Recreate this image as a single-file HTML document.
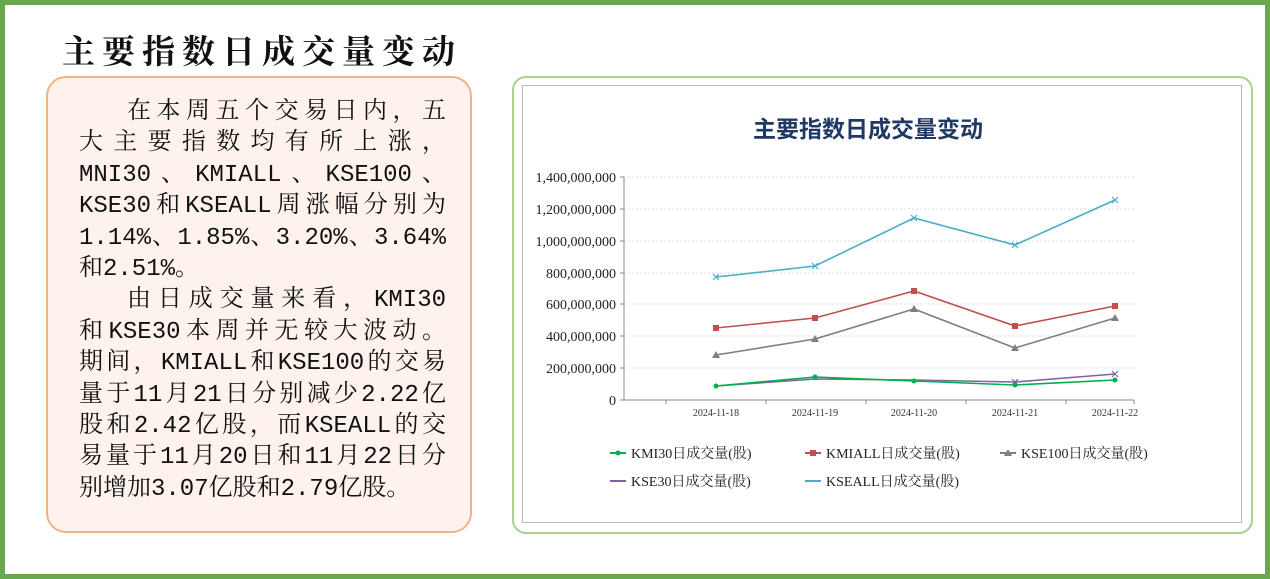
<!DOCTYPE html>
<html><head><meta charset="utf-8"><style>
body{margin:0;width:1270px;height:579px;background:#fff;position:relative;overflow:hidden;font-family:"Liberation Serif","Noto Serif CJK SC",serif}
.frame{position:absolute;left:0;top:0;width:1260px;height:569px;border:5px solid #6aa84f}
.title{position:absolute;left:62px;top:26px;font-size:33px;font-weight:bold;letter-spacing:7px;color:#111;white-space:nowrap}
.box{position:absolute;left:46px;top:76px;width:422px;height:453px;background:#fdf3ec;border:2px solid #f4b183;border-radius:20px}
.txt{position:absolute;left:79px;top:97px;width:367px;font-size:24px;color:#111;font-family:"Liberation Mono","Noto Serif CJK SC",serif}
.txt div{height:31.4px;line-height:31.4px;text-align:justify;text-align-last:justify;white-space:nowrap}
.txt div.l{text-align-last:left}
.cbox{position:absolute;left:512px;top:76px;width:737px;height:454px;border:2px solid #a9d18e;border-radius:14px}
.inner{position:absolute;left:522px;top:85px;width:718px;height:436px;border:1px solid #bbb}
</style></head><body>
<div class="frame"></div>
<div class="title">主要指数日成交量变动</div>
<div class="box"></div>
<div class="txt">
<div style="padding-left:48px">在本周五个交易日内，五</div>
<div>大主要指数均有所上涨，</div>
<div>MNI30、KMIALL、KSE100、</div>
<div>KSE30和KSEALL周涨幅分别为</div>
<div>1.14%、1.85%、3.20%、3.64%</div>
<div class="l">和2.51%。</div>
<div style="padding-left:48px">由日成交量来看，KMI30</div>
<div>和KSE30本周并无较大波动。</div>
<div>期间，KMIALL和KSE100的交易</div>
<div>量于11月21日分别减少2.22亿</div>
<div>股和2.42亿股，而KSEALL的交</div>
<div>易量于11月20日和11月22日分</div>
<div class="l">别增加3.07亿股和2.79亿股。</div>
</div>
<div class="cbox"></div>
<div class="inner"></div>
<svg style="position:absolute;left:0;top:0" width="1270" height="579" font-family="Liberation Serif, Noto Serif CJK SC, serif">
<text x="868" y="137" font-size="23" font-weight="bold" fill="#1f3864" text-anchor="middle" font-family="Liberation Sans, Noto Sans CJK SC, sans-serif">主要指数日成交量变动</text>
<g stroke="#ddd" stroke-dasharray="2,2">
<line x1="624" y1="177" x2="1134" y2="177"/><line x1="624" y1="209" x2="1134" y2="209"/><line x1="624" y1="241" x2="1134" y2="241"/><line x1="624" y1="273" x2="1134" y2="273"/><line x1="624" y1="304" x2="1134" y2="304"/><line x1="624" y1="336" x2="1134" y2="336"/><line x1="624" y1="368" x2="1134" y2="368"/>
</g>
<g stroke="#888"><line x1="624" y1="177" x2="624" y2="400"/><line x1="620" y1="400" x2="1134" y2="400"/>
<line x1="620" y1="177" x2="624" y2="177"/><line x1="620" y1="209" x2="624" y2="209"/><line x1="620" y1="241" x2="624" y2="241"/><line x1="620" y1="273" x2="624" y2="273"/><line x1="620" y1="304" x2="624" y2="304"/><line x1="620" y1="336" x2="624" y2="336"/><line x1="620" y1="368" x2="624" y2="368"/>
<line x1="666" y1="400" x2="666" y2="404"/><line x1="766" y1="400" x2="766" y2="404"/><line x1="866" y1="400" x2="866" y2="404"/><line x1="966" y1="400" x2="966" y2="404"/><line x1="1066" y1="400" x2="1066" y2="404"/><line x1="1134" y1="400" x2="1134" y2="404"/></g>
<g font-size="14" fill="#222" text-anchor="end">
<text x="616" y="182">1,400,000,000</text><text x="616" y="214">1,200,000,000</text><text x="616" y="246">1,000,000,000</text><text x="616" y="278">800,000,000</text><text x="616" y="309">600,000,000</text><text x="616" y="341">400,000,000</text><text x="616" y="373">200,000,000</text><text x="616" y="405">0</text></g>
<g font-size="10" fill="#333" text-anchor="middle">
<text x="716" y="416">2024-11-18</text><text x="815" y="416">2024-11-19</text><text x="914" y="416">2024-11-20</text><text x="1015" y="416">2024-11-21</text><text x="1115" y="416">2024-11-22</text></g>
<g fill="none" stroke-width="1.6">
<polyline stroke="#4bacc6" points="716,277 815,266 914,218 1015,245 1115,200"/>
<polyline stroke="#c0504d" points="716,328 815,318 914,291 1015,326 1115,306"/>
<polyline stroke="#7f7f7f" points="716,355 815,339 914,309 1015,348 1115,318"/>
<polyline stroke="#8064a2" points="716,386 815,379 914,380 1015,382 1115,374"/>
<polyline stroke="#00b050" points="716,386 815,377 914,381 1015,385 1115,380"/>
</g>
<g stroke="#4bacc6" stroke-width="1.2"><path d="M713,274l6,6M719,274l-6,6"/><path d="M812,263l6,6M818,263l-6,6"/><path d="M911,215l6,6M917,215l-6,6"/><path d="M1012,242l6,6M1018,242l-6,6"/><path d="M1112,197l6,6M1118,197l-6,6"/></g>
<g stroke="#8064a2" stroke-width="1.2"><path d="M1112,371l6,6M1118,371l-6,6"/><path d="M1012,379l6,6M1018,379l-6,6"/></g>
<g fill="#c0504d"><rect x="713" y="325" width="6" height="6"/><rect x="812" y="315" width="6" height="6"/><rect x="911" y="288" width="6" height="6"/><rect x="1012" y="323" width="6" height="6"/><rect x="1112" y="303" width="6" height="6"/></g>
<g fill="#7f7f7f"><path d="M716,351l4,7h-8z"/><path d="M815,335l4,7h-8z"/><path d="M914,305l4,7h-8z"/><path d="M1015,344l4,7h-8z"/><path d="M1115,314l4,7h-8z"/></g>
<g fill="#00b050"><circle cx="716" cy="386" r="2.5"/><circle cx="815" cy="377" r="2.5"/><circle cx="914" cy="381" r="2.5"/><circle cx="1015" cy="385" r="2.5"/><circle cx="1115" cy="380" r="2.5"/></g>
<g font-size="14" fill="#222">
<line x1="610" y1="453" x2="626" y2="453" stroke="#00b050" stroke-width="2"/><circle cx="618" cy="453" r="2.5" fill="#00b050"/><text x="631" y="458">KMI30日成交量(股)</text>
<line x1="805" y1="453" x2="821" y2="453" stroke="#c0504d" stroke-width="2"/><rect x="810" y="450" width="6" height="6" fill="#c0504d"/><text x="826" y="458">KMIALL日成交量(股)</text>
<line x1="1000" y1="453" x2="1016" y2="453" stroke="#7f7f7f" stroke-width="2"/><path d="M1008,449l4,7h-8z" fill="#7f7f7f"/><text x="1021" y="458">KSE100日成交量(股)</text>
<line x1="610" y1="481" x2="626" y2="481" stroke="#8064a2" stroke-width="2"/><text x="631" y="486">KSE30日成交量(股)</text>
<line x1="805" y1="481" x2="821" y2="481" stroke="#4bacc6" stroke-width="2"/><text x="826" y="486">KSEALL日成交量(股)</text>
</g>
</svg>
</body></html>
